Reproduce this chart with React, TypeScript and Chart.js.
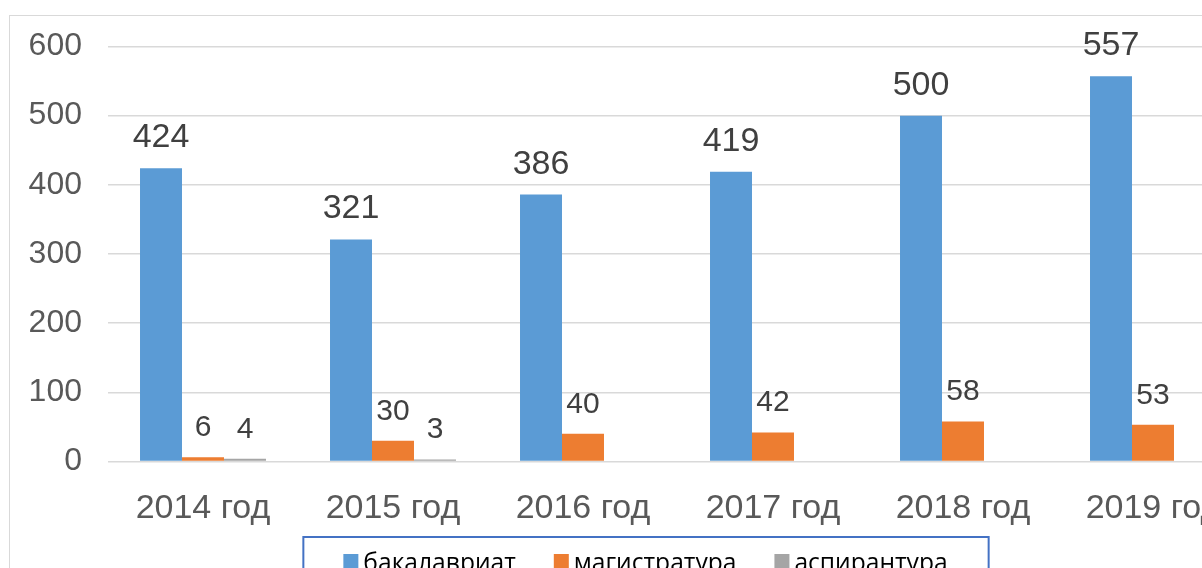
import React, { useEffect, useRef } from "react";
import { Chart, registerables } from "chart.js";

Chart.register(...registerables);

const categories = ["2014 год", "2015 год", "2016 год", "2017 год", "2018 год", "2019 год"];
const bachelor = [424, 321, 386, 419, 500, 557];
const master = [6, 30, 40, 42, 58, 53];
const postgrad = [4, 3, 0, 0, 0, 0];
const seriesNames = ["бакалавриат", "магистратура", "аспирантура"];
const seriesColors = ["#5b9bd5", "#ed7d31", "#a5a5a5"];
const yTicks = [0, 100, 200, 300, 400, 500, 600];

const FAMILY = '"Liberation Sans", Arial, sans-serif';
const LEGEND_FAMILY = '"Open Sans", "Noto Sans", sans-serif';

const CANVAS_W = 1300;
const CANVAS_H = 640;

const dataLabels = {
  id: "dataLabels",
  afterDatasetsDraw(chart: any) {
    const ctx = chart.ctx;
    chart.data.datasets.forEach((ds: any, i: number) => {
      const meta = chart.getDatasetMeta(i);
      meta.data.forEach((el: any, j: number) => {
        const v = ds.data[j];
        if (!v) return;
        ctx.save();
        ctx.font = `${i === 0 ? 34 : 30}px ${FAMILY}`;
        ctx.fillStyle = "#404040";
        ctx.textAlign = "center";
        ctx.textBaseline = "alphabetic";
        ctx.fillText(String(v), el.x, el.y - 21);
        ctx.restore();
      });
    });
  },
};

const boxLegend = {
  id: "boxLegend",
  afterDraw(chart: any) {
    const ctx = chart.ctx;
    ctx.save();
    ctx.font = `24.6px ${LEGEND_FAMILY}`;
    const sq = 15;
    const gapText = 5;
    const gapItem = 38;
    const items = chart.data.datasets.map((ds: any) => ({
      label: ds.label,
      color: ds.backgroundColor,
      w: ctx.measureText(ds.label).width,
    }));
    const total =
      items.reduce((s: number, it: any) => s + sq + gapText + it.w, 0) + gapItem * (items.length - 1);
    const cx = 645.5;
    let x = cx - total / 2;
    const top = 537;
    ctx.strokeStyle = "#4472c4";
    ctx.lineWidth = 2;
    ctx.strokeRect(x - 40, top, total + 81, 80);
    items.forEach((it: any) => {
      ctx.fillStyle = it.color;
      ctx.fillRect(x, 554, sq, sq);
      ctx.fillStyle = "#000000";
      ctx.textAlign = "left";
      ctx.textBaseline = "alphabetic";
      ctx.fillText(it.label, x + sq + gapText, 571);
      x += sq + gapText + it.w + gapItem;
    });
    ctx.restore();
  },
};

export default function App() {
  const ref = useRef<HTMLCanvasElement | null>(null);

  useEffect(() => {
    if (!ref.current) return;
    const chart = new Chart(ref.current, {
      type: "bar",
      data: {
        labels: categories,
        datasets: [
          { label: seriesNames[0], data: bachelor, backgroundColor: seriesColors[0] },
          { label: seriesNames[1], data: master, backgroundColor: seriesColors[1] },
          { label: seriesNames[2], data: postgrad, backgroundColor: seriesColors[2] },
        ].map((d) => ({ ...d, barPercentage: 1, categoryPercentage: 0.663, borderWidth: 0 })),
      },
      options: {
        responsive: false,
        animation: false,
        devicePixelRatio: 1,
        layout: { padding: { left: 0, right: CANVAS_W - 1248, top: 46.5, bottom: 0 } },
        plugins: { legend: { display: false }, tooltip: { enabled: false } },
        scales: {
          x: {
            grid: { display: false },
            border: { display: false },
            ticks: {
              font: { size: 34, family: FAMILY },
              color: "#595959",
              padding: 19,
              maxRotation: 0,
              autoSkip: false,
            },
            afterFit: (s: any) => {
              s.height = CANVAS_H - 461.5;
            },
          },
          y: {
            min: 0,
            max: 600,
            grid: { color: "#d9d9d9", lineWidth: 1.5, drawTicks: false },
            border: { display: false },
            ticks: { font: { size: 32, family: FAMILY }, color: "#595959", padding: 26 },
            afterBuildTicks: (s: any) => {
              s.ticks = yTicks.map((v) => ({ value: v }));
            },
            afterFit: (s: any) => {
              s.width = 108;
            },
          },
        },
      },
      plugins: [dataLabels, boxLegend],
    });
    return () => chart.destroy();
  }, []);

  return (
    <div
      style={{
        position: "fixed",
        left: 0,
        top: 0,
        width: 1202,
        height: 568,
        overflow: "hidden",
        background: "#ffffff",
      }}
    >
      <div
        style={{
          position: "absolute",
          left: 9,
          top: 15,
          width: 1500,
          height: 800,
          border: "1px solid #d9d9d9",
          boxSizing: "border-box",
        }}
      />
      <canvas
        ref={ref}
        width={CANVAS_W}
        height={CANVAS_H}
        style={{ position: "absolute", left: 0, top: 0, width: CANVAS_W, height: CANVAS_H }}
      />
    </div>
  );
}
